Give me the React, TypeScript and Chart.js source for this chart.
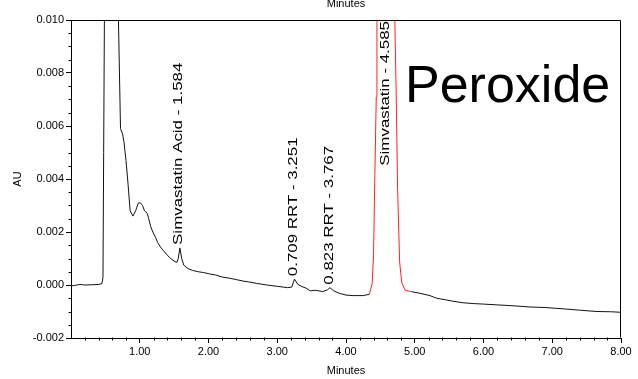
import React, { useEffect, useRef } from "react";
import { Chart, registerables } from "chart.js";

Chart.register(...registerables);

// Retention time (minutes)
const times = [
  0.0, 0.05, 0.1, 0.15, 0.2, 0.3, 0.4, 0.45, 0.465, 0.475, 0.49, 0.52, 0.6, 0.66, 0.69,
  0.72, 0.75, 0.77, 0.8, 0.83, 0.86, 0.9, 0.94, 0.98, 1.01, 1.04, 1.07, 1.11, 1.13, 1.16,
  1.19, 1.23, 1.26, 1.31, 1.36, 1.41, 1.45, 1.5, 1.54, 1.56, 1.584, 1.61, 1.64, 1.7, 1.77,
  1.85, 1.93, 2.01, 2.1, 2.2, 2.3, 2.41, 2.5, 2.6, 2.7, 2.85, 3.0, 3.15, 3.21, 3.251,
  3.3, 3.36, 3.42, 3.48, 3.56, 3.66, 3.73, 3.767, 3.82, 3.91, 4.0, 4.1, 4.25, 4.34, 4.38,
  4.4, 4.42, 4.44, 4.45, 4.5, 4.585, 4.66, 4.71, 4.73, 4.75, 4.78, 4.81, 4.86, 4.95, 5.05,
  5.12, 5.22, 5.32, 5.45, 5.57, 5.7, 5.85, 6.0, 6.2, 6.4, 6.68, 6.9, 7.16, 7.4, 7.65,
  7.85, 8.0,
];

// Absorbance (AU)
const absorbance = [
  -0.00003, -0.00002, 0.00001, 0.00002, 0.0, 0.00001, 0.00002, 0.00005, 0.0003, 0.005, 0.012, 0.025, 0.03, 0.015, 0.01,
  0.0059, 0.0057, 0.0054, 0.0047, 0.0038, 0.0028, 0.0026, 0.0028, 0.0031, 0.0031, 0.003, 0.0028, 0.0027, 0.0025, 0.0022,
  0.002, 0.0018, 0.0016, 0.0014, 0.00125, 0.0011, 0.001, 0.0009, 0.00085, 0.001, 0.0014, 0.001, 0.00075, 0.00062, 0.00055,
  0.0005, 0.00047, 0.00042, 0.00038, 0.0003, 0.00026, 0.0002, 0.00015, 0.00011, 0.00006, 0.0, -0.00005, -0.0001, -0.00008, 0.00022,
  0.00002, -0.00006, -0.00012, -0.00022, -0.0002, -0.00025, -0.00018, -0.0001, -0.00022, -0.00032, -0.00038, -0.0004, -0.0004, -0.00035, 0.00005,
  0.0011, 0.0042, 0.0071, 0.0099, 0.03, 0.045, 0.03, 0.01, 0.0072, 0.0037, 0.00087, 0.0001, -0.0002, -0.00025, -0.0003,
  -0.00034, -0.0004, -0.0005, -0.00056, -0.00062, -0.00067, -0.0007, -0.00072, -0.00075, -0.00078, -0.00083, -0.00085, -0.0009, -0.00095, -0.001,
  -0.00101, -0.00103,
];

// Peak annotations
const peakNames = [
  "Simvastatin Acid - 1.584",
  "0.709 RRT - 3.251",
  "0.823 RRT - 3.767",
  "Simvastatin - 4.585",
];
const peakTimes = [1.584, 3.251, 3.767, 4.585];
const peakHeights = [0.0014, 0.00022, -0.0001, 0.045];

// Highlighted (red) peak window
const highlightStart = 4.34;
const highlightEnd = 4.95;

// Axis ticks
const xTickValues = [1, 2, 3, 4, 5, 6, 7, 8];
const yTickValues = [-0.002, 0.0, 0.002, 0.004, 0.006, 0.008, 0.01];
const xMin = 0;
const xMax = 8;
const yMin = -0.002;
const yMax = 0.01;
const xMinorStep = 0.2;
const yMinorStep = 0.0005;

const sampleTitle = "Peroxide";
const axisTitleX = "Minutes";
const axisTitleY = "AU";

const FONT = "'Liberation Sans', Arial, Helvetica, sans-serif";

const decorPlugin = {
  id: "decor",
  afterDatasetsDraw(chart: any) {
    const { ctx, chartArea, scales } = chart;
    const xs = scales.x;
    const ys = scales.y;
    ctx.save();
    // frame
    ctx.strokeStyle = "#000";
    ctx.lineWidth = 1;
    const l = Math.round(chartArea.left) + 0.5;
    const t = Math.round(chartArea.top) + 0.5;
    const r = Math.round(chartArea.right) - 0.5;
    const b = Math.round(chartArea.bottom) - 0.5;
    ctx.beginPath();
    ctx.moveTo(l, t);
    ctx.lineTo(r, t);
    ctx.lineTo(r, b);
    ctx.stroke();

    // minor ticks
    ctx.beginPath();
    for (let v = xMin + xMinorStep; v < xMax - 1e-9; v += xMinorStep) {
      if (Math.abs(v - Math.round(v)) < 1e-6) continue;
      const px = Math.round(xs.getPixelForValue(v)) + 0.5;
      ctx.moveTo(px, b);
      ctx.lineTo(px, b + 3);
    }
    for (let v = yMin + yMinorStep; v < yMax - 1e-9; v += yMinorStep) {
      const k = v / 0.002;
      if (Math.abs(k - Math.round(k)) < 1e-6) continue;
      const py = Math.round(ys.getPixelForValue(v)) + 0.5;
      ctx.moveTo(l, py);
      ctx.lineTo(l - 3, py);
    }
    ctx.stroke();

    // peak labels
    ctx.fillStyle = "#000";
    ctx.font = `13px ${FONT}`;
    ctx.textBaseline = "middle";
    const stretch = 1.3;
    for (let i = 0; i < peakNames.length; i++) {
      const px = xs.getPixelForValue(peakTimes[i]) - 1;
      ctx.save();
      if (peakHeights[i] > yMax) {
        ctx.translate(px, chartArea.top + 1);
        ctx.rotate(-Math.PI / 2);
        ctx.scale(stretch, 1);
        ctx.textAlign = "right";
        ctx.fillText(peakNames[i], 0, 0);
      } else {
        const py = ys.getPixelForValue(peakHeights[i]) - 3;
        ctx.translate(px, py);
        ctx.rotate(-Math.PI / 2);
        ctx.scale(stretch, 1);
        ctx.textAlign = "left";
        ctx.fillText(peakNames[i], 0, 0);
      }
      ctx.restore();
    }

    // big sample title
    ctx.font = `52px ${FONT}`;
    ctx.textAlign = "left";
    ctx.textBaseline = "alphabetic";
    ctx.fillText(sampleTitle, 405, 102);

    // cropped axis title at the very top (from chart above)
    ctx.font = `11px ${FONT}`;
    ctx.textAlign = "center";
    ctx.fillText(axisTitleX, (chartArea.left + chartArea.right) / 2, 7);
    ctx.restore();
  },
};

export default function App() {
  const ref = useRef<HTMLCanvasElement | null>(null);

  useEffect(() => {
    if (!ref.current) return;
    const points = times.map((t, i) => ({ x: t, y: absorbance[i] }));
    const chart = new Chart(ref.current, {
      type: "line",
      data: {
        datasets: [
          {
            data: points,
            borderColor: "#111",
            borderWidth: 1,
            pointRadius: 0,
            tension: 0,
            fill: false,
            segment: {
              borderColor: (c: any) =>
                c.p0.parsed.x >= highlightStart - 1e-9 && c.p1.parsed.x <= highlightEnd + 1e-9
                  ? "#ff2020"
                  : "#111",
            },
          },
        ],
      },
      options: {
        responsive: false,
        animation: false,
        events: [],
        layout: { padding: { top: 20, right: 17, left: 0, bottom: 0 } },
        plugins: {
          legend: { display: false },
          tooltip: { enabled: false },
          title: { display: false },
        },
        scales: {
          x: {
            type: "linear",
            min: xMin,
            max: xMax,
            afterBuildTicks: (s: any) => {
              s.ticks = xTickValues.map((v) => ({ value: v }));
            },
            afterFit: (s: any) => {
              s.height = 41;
            },
            grid: {
              drawOnChartArea: false,
              drawTicks: true,
              tickLength: 5,
              tickColor: "#000",
              tickWidth: 1,
            },
            border: { display: true, color: "#000", width: 1 },
            ticks: {
              color: "#000",
              padding: 2,
              maxRotation: 0,
              autoSkip: false,
              font: { family: FONT, size: 11 },
              callback: (v: any) => Number(v).toFixed(2),
            },
            title: {
              display: true,
              text: axisTitleX,
              color: "#000",
              font: { family: FONT, size: 11 },
              padding: { top: 0, bottom: 1 },
            },
          },
          y: {
            type: "linear",
            min: yMin,
            max: yMax,
            afterBuildTicks: (s: any) => {
              s.ticks = yTickValues.map((v) => ({ value: v }));
            },
            afterFit: (s: any) => {
              s.width = 71;
            },
            grid: {
              drawOnChartArea: false,
              drawTicks: true,
              tickLength: 5,
              tickColor: "#000",
              tickWidth: 1,
            },
            border: { display: true, color: "#000", width: 1 },
            ticks: {
              color: "#000",
              padding: 2,
              autoSkip: false,
              font: { family: FONT, size: 11 },
              callback: (v: any) => Number(v).toFixed(3),
            },
            title: {
              display: true,
              text: axisTitleY,
              color: "#000",
              font: { family: FONT, size: 11 },
              padding: { top: 11, bottom: 0 },
            },
          },
        },
      },
      plugins: [decorPlugin],
    });
    return () => chart.destroy();
  }, []);

  return (
    <div style={{ position: "fixed", left: 0, top: 0, width: 638, height: 379, background: "#fff" }}>
      <canvas ref={ref} width={638} height={379} style={{ display: "block" }} />
    </div>
  );
}
